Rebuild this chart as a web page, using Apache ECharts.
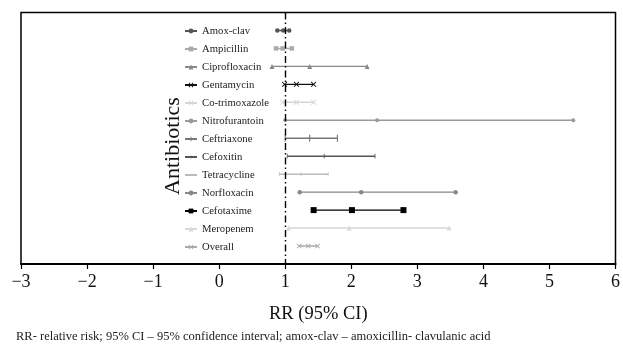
<!DOCTYPE html>
<html>
<head>
<meta charset="utf-8">
<script src="https://cdn.jsdelivr.net/npm/echarts@6/dist/echarts.min.js"></script>
<style>html,body{margin:0;padding:0;background:#fff}#c{width:623px;height:345px}</style>
</head>
<body>
<div id="c"></div>
<script>
// ---- data ----
const antibiotics = ['Amox-clav','Ampicillin','Ciprofloxacin','Gentamycin','Co-trimoxazole','Nitrofurantoin','Ceftriaxone','Cefoxitin','Tetracycline','Norfloxacin','Cefotaxime','Meropenem','Overall'];
const lowerCI  = [0.88, 0.86, 0.80, 0.99, 0.96, 1.00, 1.00, 1.03, 0.91, 1.22, 1.43, 1.05, 1.21];
const estimate = [0.97, 0.96, 1.37, 1.17, 1.17, 2.39, 1.37, 1.59, 1.24, 2.15, 2.01, 1.97, 1.35];
const upperCI  = [1.06, 1.10, 2.24, 1.43, 1.43, 5.36, 1.79, 2.36, 1.65, 3.58, 2.79, 3.48, 1.49];
const xTicks = [-3, -2, -1, 0, 1, 2, 3, 4, 5, 6];
const refValue = 1;
const footnote = 'RR- relative risk; 95% CI \u2013 95% confidence interval; amox-clav \u2013 amoxicillin- clavulanic acid';

// ---- styles ----
const X = 'path://M0,1.2L1.2,0L5,3.8L8.8,0L10,1.2L6.2,5L10,8.8L8.8,10L5,6.2L1.2,10L0,8.8L3.8,5Z';
const BAR = 'path://M0,0h0.01v0.01h-0.01zM9.99,9.99h0.01v0.01h-0.01zM4.2,0h1.6v10h-1.6z';
const BARTHIN = 'path://M0,0h0.01v0.01h-0.01zM9.99,9.99h0.01v0.01h-0.01zM4.5,2h1v6h-1z';
const styles = [
  {c:'#555555', s:'circle', z:4.5},
  {c:'#aaaaaa', s:'rect', z:4.5},
  {c:'#888888', s:'triangle', z:5},
  {c:'#111111', s:X, z:5.5},
  {c:'#d6d6d6', s:X, z:5.5},
  {c:'#9a9a9a', s:'circle', z:4},
  {c:'#777777', s:BAR, z:7},
  {c:'#555555', s:BARTHIN, z:8},
  {c:'#bbbbbb', s:BARTHIN, z:7},
  {c:'#888888', s:'circle', z:4.5},
  {c:'#000000', s:'rect', z:6},
  {c:'#d8d8d8', s:'triangle', z:5},
  {c:'#aaaaaa', s:X, z:5}
];
const yCats = [' '].concat(antibiotics).concat(['  ']);
const serif = '"Liberation Serif","DejaVu Serif",serif';

const series = antibiotics.map((name, i) => ({
  name: name,
  type: 'line',
  data: [[lowerCI[i], name], [estimate[i], name], [upperCI[i], name]],
  symbol: styles[i].s,
  symbolSize: styles[i].z,
  lineStyle: {color: styles[i].c, width: 1.4},
  itemStyle: {color: styles[i].c},
  emphasis: {disabled: true},
  silent: true,
  z: 3
}));
series.push({
  name: 'ref',
  type: 'line',
  data: [],
  silent: true,
  markLine: {
    silent: true,
    symbol: 'none',
    label: {show: false},
    lineStyle: {color: '#000', width: 1.4, type: [7, 3, 1.5, 3]},
    data: [[{xAxis: refValue, yAxis: 0.4}, {xAxis: refValue, yAxis: yCats.length - 1}]]
  },
  z: 2
});

const chart = echarts.init(document.getElementById('c'), null, {renderer: 'canvas'});
chart.setOption({
  animation: false,
  backgroundColor: '#fff',
  grid: {left: 21, right: 6, top: 12.5, bottom: 81, show: true, borderColor: '#000', borderWidth: 1.5, containLabel: false},
  xAxis: {
    type: 'value', min: xTicks[0], max: xTicks[xTicks.length - 1], interval: 1,
    name: 'RR (95% CI)', nameLocation: 'middle', nameGap: 41,
    nameTextStyle: {fontFamily: serif, fontSize: 18.5, color: '#111'},
    axisLine: {show: true, lineStyle: {color: '#000', width: 2}},
    axisTick: {show: true, length: 5, lineStyle: {color: '#000', width: 1.2}},
    axisLabel: {fontFamily: serif, fontSize: 18, color: '#111', margin: 9,
      formatter: v => String(v).replace('-', '\u2212')},
    splitLine: {show: false}
  },
  yAxis: {
    type: 'category', data: yCats, inverse: true, boundaryGap: false,
    axisLine: {show: false}, axisTick: {show: false}, axisLabel: {show: false}, splitLine: {show: false}
  },
  legend: {
    orient: 'vertical', left: 184, top: 25.5, padding: 0,
    data: antibiotics,
    itemWidth: 12, itemHeight: 6, itemGap: 7.0,
    textStyle: {fontFamily: serif, fontSize: 10.7, color: '#222', padding: [0,0,0,0]},
    selectedMode: false
  },
  title: {
    text: footnote, left: 16, top: 330, padding: 0,
    textStyle: {fontFamily: serif, fontSize: 12.5, fontWeight: 'normal', color: '#222'}
  },
  graphic: [{
    type: 'text', x: 173, y: 146, rotation: Math.PI / 2,
    style: {text: 'Antibiotics', fontFamily: serif, fontSize: 22, fill: '#111', align: 'center', verticalAlign: 'middle'}
  }],
  series: series
});
</script>
</body>
</html>
